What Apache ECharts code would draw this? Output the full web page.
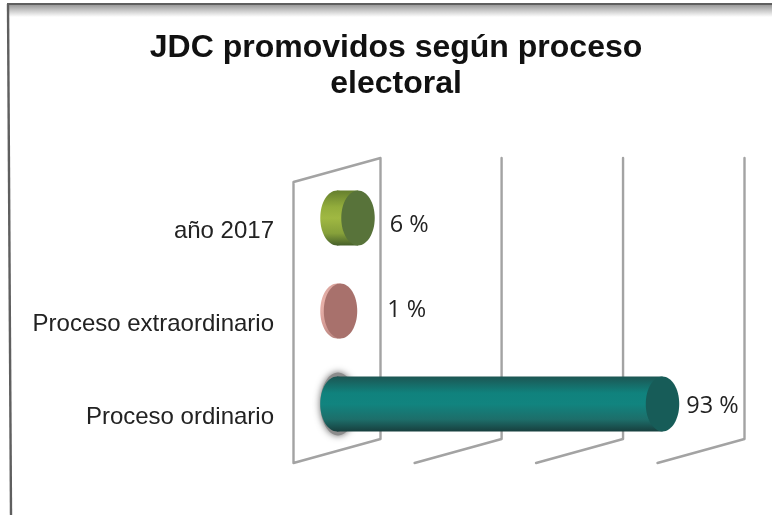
<!DOCTYPE html>
<html><head><meta charset="utf-8">
<style>html,body{margin:0;padding:0;background:#fff}#c{width:772px;height:515px}</style>
<script src="https://cdn.jsdelivr.net/npm/echarts@6/dist/echarts.min.js"></script>
</head><body><div id="c"></div>
<script>
const titleText = "JDC promovidos según proceso\nelectoral";
const categories = ["año 2017", "Proceso extraordinario", "Proceso ordinario"];
const values = [6, 1, 93];
const gridTicks = [0, 34.6, 69.3, 104];
const labelGaps = [15, 30, 7];
const labelShift = [7, -1, 2];
const palette = [
  {stops:["#657f2e","#93ad3c","#a0b842","#86a03a","#46602a"],cap:"#58733a"},
  {stops:["#d9a39c","#e6b0a8","#e3aca5","#d49a94","#b88680"],cap:"#a8716c"},
  {stops:["#1c5653","#10827d","#11847f","#1d6e6a","#173f3e"],cap:"#175c58"}
];
const chart = echarts.init(document.getElementById('c'));
const ln = {stroke:"#a3a3a3",lineWidth:2.4,lineCap:"round",lineJoin:"round",fill:null};
chart.setOption({
  animation:false,
  backgroundColor:"#ffffff",
  title:{text:titleText,left:391,top:25,textAlign:"center",
    textStyle:{fontFamily:"Liberation Sans",fontWeight:"bold",fontSize:32,lineHeight:36,color:"#111"}},
  graphic:[
    {type:"rect",shape:{x:8,y:5,width:764,height:12},silent:true,
     style:{fill:{type:"linear",x:0,y:0,x2:0,y2:1,colorStops:[{offset:0,color:"#9a9a9a"},{offset:1,color:"#ffffff"}]}}},
    {type:"line",shape:{x1:7,y1:4,x2:772,y2:4},silent:true,style:{stroke:"#5f5f5f",lineWidth:2}},
    {type:"line",shape:{x1:8,y1:4,x2:11,y2:515},silent:true,style:{stroke:"#5f5f5f",lineWidth:2.4}}
  ],
  grid:{left:337,top:171.5,width:364,height:279},
  xAxis:{type:"value",min:0,max:104,show:false},
  yAxis:{type:"category",inverse:true,data:categories,
    axisLine:{show:false},axisTick:{show:false},splitLine:{show:false},
    axisLabel:{margin:63,fontFamily:"Liberation Sans",fontSize:24,lineHeight:26,color:"#222",verticalAlign:"top"}},
  series:[
    {type:"custom",coordinateSystem:"cartesian2d",silent:true,clip:false,z:1,
     data:gridTicks.map(v=>[v,0]),encode:{x:0,y:1},
     renderItem(params,api){
       const x=api.coord([api.value(0),0])[0], g=params.coordSys;
       const top=g.y-13.5, bot=g.y+g.height-11.5, d=43.5, rise=24;
       const pts=params.dataIndex===0
         ?[[x-d,bot+rise],[x-d,top+rise],[x+d,top],[x+d,bot],[x-d,bot+rise]]
         :[[x-d,bot+rise],[x+d,bot],[x+d,top]];
       return {type:"polyline",shape:{points:pts},style:ln,silent:true};
     }},
    {type:"custom",coordinateSystem:"cartesian2d",silent:true,clip:false,z:3,
     data:values.map((v,i)=>[v,i]),encode:{x:0,y:1},
     renderItem(params,api){
       const i=params.dataIndex, v=api.value(0), p=palette[i];
       const s=api.coord([0,i]), e=api.coord([v,i]);
       const ry=api.size([0,1])[1]*0.295, rx=ry*0.61, cy=s[1];
       const grad={type:"linear",x:0,y:0,x2:0,y2:1,colorStops:p.stops.map((c,k)=>({offset:[0,0.3,0.5,0.78,1][k],color:c}))};
       const ch=[];
       if(i===2){
         ch.push({type:"ellipse",shape:{cx:s[0]+1,cy:cy,rx:rx+1,ry:ry+4},
           style:{fill:"#8c8c8c",shadowBlur:7,shadowColor:"#666"}});
       }
       ch.push({type:"ellipse",shape:{cx:s[0],cy,rx,ry},style:{fill:grad}});
       ch.push({type:"rect",shape:{x:s[0],y:cy-ry,width:Math.max(e[0]-s[0],0),height:2*ry},style:{fill:grad}});
       ch.push({type:"ellipse",shape:{cx:e[0],cy,rx,ry},style:{fill:p.cap}});
       ch.push({type:"text",style:{text:v+" %",x:e[0]+rx+labelGaps[i],y:cy+labelShift[i],
         verticalAlign:"middle",align:"left",fontFamily:"Open Sans",fontSize:23.5,fill:"#222"}});
       return {type:"group",children:ch};
     }}
  ]
});
</script></body></html>
